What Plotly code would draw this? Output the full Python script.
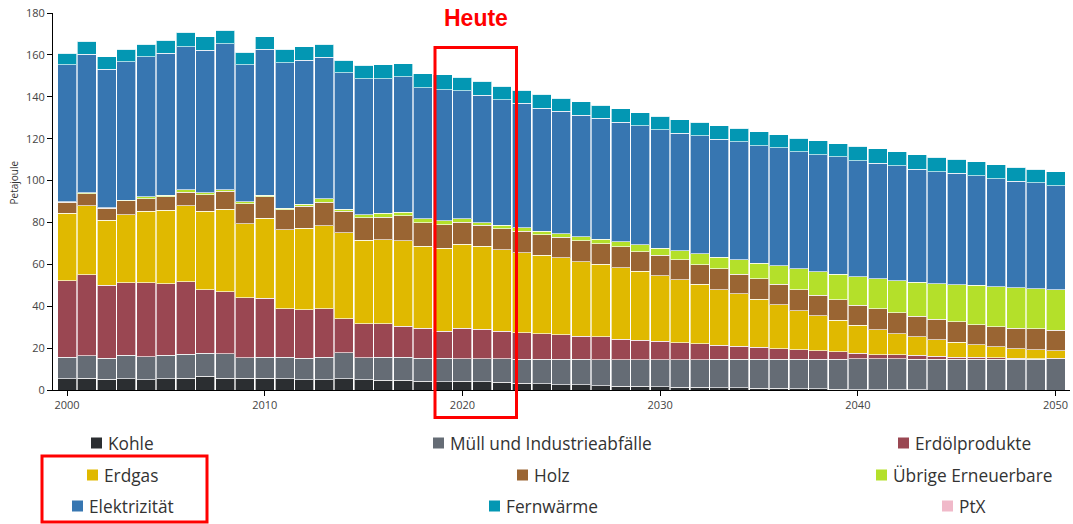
import plotly.graph_objects as go

years = list(range(2000, 2051))

# Petajoule per Energieträger, 2000-2050 (10 Werte pro Zeile)
kohle = [5.3, 5.6, 5.2, 5.3, 4.9, 5.3, 5.6, 6.6, 5.6, 5.6,
         5.6, 5.3, 4.9, 4.9, 5.3, 5.0, 4.7, 4.6, 4.1, 3.9,
         4.1, 3.9, 3.7, 3.2, 3.1, 2.6, 2.5, 2.1, 1.8, 1.7,
         1.6, 1.3, 1.2, 1.1, 1.0, 0.9, 0.8, 0.7, 0.6, 0.4,
         0.2, 0.1, 0.1, 0.1, 0.0, 0.0, 0.0, 0.0, 0.0, 0.0,
         0.0]
muell = [10.3, 10.7, 10.0, 11.3, 10.9, 11.3, 11.5, 11.0, 11.7, 9.8,
         10.0, 10.3, 10.3, 10.7, 12.6, 10.4, 11.0, 11.1, 11.1, 11.3,
         10.8, 11.0, 11.2, 11.5, 11.5, 12.0, 12.1, 12.3, 12.6, 12.7,
         12.8, 13.1, 13.2, 13.5, 13.6, 13.7, 13.8, 13.9, 14.0, 14.2,
         14.8, 14.9, 14.9, 14.7, 14.8, 14.8, 14.8, 14.8, 14.8, 14.8,
         14.9]
erdoel = [36.6, 38.8, 34.8, 34.7, 35.5, 34.2, 34.7, 30.3, 29.7, 28.7,
          28.1, 23.3, 23.2, 23.3, 16.2, 16.3, 16.0, 14.7, 14.3, 12.9,
          14.6, 14.1, 13.2, 12.6, 12.2, 11.7, 11.1, 11.0, 9.8, 9.4,
          8.9, 8.1, 7.8, 6.8, 6.3, 5.8, 5.1, 4.7, 4.1, 3.6,
          2.6, 1.8, 1.8, 1.7, 1.3, 0.8, 0.8, 0.7, 0.3, 0.2,
          0.3]
erdgas = [32.2, 32.9, 31.0, 32.3, 34.0, 35.0, 36.1, 37.4, 39.4, 35.3,
          38.3, 37.5, 38.8, 39.6, 40.9, 39.8, 40.1, 40.9, 39.1, 39.7,
          40.2, 39.6, 38.8, 38.2, 37.5, 36.8, 35.6, 34.6, 34.2, 32.9,
          31.3, 30.2, 28.3, 26.5, 25.0, 22.9, 20.9, 18.6, 16.8, 15.1,
          13.2, 11.9, 10.0, 8.9, 8.0, 7.1, 6.0, 5.1, 4.7, 4.3,
          3.5]
holz = [5.2, 5.7, 5.7, 6.7, 5.9, 6.4, 6.5, 8.0, 8.4, 9.6,
        10.2, 9.6, 10.5, 11.1, 10.3, 10.7, 10.8, 12.0, 11.2, 11.2,
        10.5, 10.0, 10.2, 10.3, 9.9, 9.8, 10.0, 9.9, 9.9, 9.4,
        9.7, 9.4, 9.4, 9.9, 9.4, 9.8, 9.9, 9.9, 9.7, 9.9,
        9.7, 10.2, 10.0, 9.7, 9.7, 9.8, 9.5, 9.7, 9.8, 9.9,
        9.9]
uebrige = [0.2, 0.4, 0.4, 0.4, 1.0, 0.7, 1.2, 0.8, 0.9, 0.8,
           0.9, 0.7, 1.1, 1.6, 1.1, 1.4, 1.9, 1.5, 1.9, 1.7,
           1.5, 1.3, 1.5, 1.6, 1.6, 1.8, 1.8, 2.0, 2.5, 3.3,
           3.4, 4.3, 5.2, 5.7, 6.8, 7.4, 8.9, 10.2, 11.3, 12.1,
           13.5, 14.3, 15.4, 16.3, 16.9, 17.8, 18.8, 19.1, 19.3, 19.1,
           19.3]
elektrizitaet = [65.5, 66.3, 66.1, 66.0, 66.9, 68.0, 68.3, 68.2, 69.6, 65.5,
                 69.7, 69.5, 68.7, 67.6, 65.1, 64.9, 64.1, 64.8, 62.5, 62.7,
                 61.2, 60.8, 60.0, 59.4, 58.8, 58.3, 58.2, 57.8, 57.0, 56.8,
                 56.6, 56.3, 56.3, 56.3, 56.5, 56.1, 56.2, 55.8, 55.9, 56.0,
                 55.5, 55.0, 54.8, 54.1, 53.4, 53.1, 52.3, 51.5, 50.8, 50.6,
                 49.6]
fernwaerme = [5.6, 6.0, 5.8, 5.9, 6.1, 6.0, 7.0, 6.4, 6.4, 5.9,
              5.9, 6.4, 6.4, 6.4, 5.9, 6.5, 6.7, 6.1, 6.8, 7.1,
              6.5, 6.6, 6.5, 6.4, 6.5, 6.4, 6.3, 6.2, 6.4, 6.2,
              6.3, 6.4, 6.4, 6.4, 6.3, 6.6, 6.3, 6.3, 6.5, 6.3,
              6.8, 6.9, 6.8, 6.9, 7.0, 6.7, 6.8, 6.7, 6.7, 6.6,
              6.6]
ptx = [0.0, 0.0, 0.0, 0.0, 0.0, 0.0, 0.0, 0.0, 0.0, 0.0,
       0.0, 0.0, 0.0, 0.0, 0.0, 0.0, 0.0, 0.0, 0.0, 0.0,
       0.0, 0.0, 0.0, 0.0, 0.0, 0.0, 0.0, 0.0, 0.0, 0.0,
       0.0, 0.0, 0.0, 0.0, 0.0, 0.0, 0.0, 0.0, 0.0, 0.0,
       0.0, 0.0, 0.0, 0.0, 0.0, 0.0, 0.0, 0.0, 0.0, 0.0,
       0.0]

names = ["Kohle", "Müll und Industrieabfälle", "Erdölprodukte", "Erdgas", "Holz",
         "Übrige Erneuerbare", "Elektrizität", "Fernwärme", "PtX"]
series = [kohle, muell, erdoel, erdgas, holz, uebrige, elektrizitaet, fernwaerme, ptx]
colors = ["#2b2e31", "#656c75", "#9a4752", "#e0b900", "#9a6533",
          "#b4e02a", "#3776b1", "#0397b3", "#f0b9c9"]

FW, FH = 1073, 524
# plot area in pixels
L, T, W, H = 53, 13, 1017, 377


def px(x):
    return (x - L) / W


def py(y):
    return (T + H - y) / H


fig = go.Figure()
for name, vals, col in zip(names, series, colors):
    fig.add_trace(go.Bar(x=years, y=vals, name=name, marker_color=col,
                         marker_line=dict(color="rgba(255,255,255,0.65)", width=1),
                         showlegend=False))

# legend drawn as squares + text (3 columns)
leg_items = [
    ("Kohle", 107, 443), ("Müll und Industrieabfälle", 449, 443), ("Erdölprodukte", 914, 443),
    ("Erdgas", 103, 475), ("Holz", 533, 475), ("Übrige Erneuerbare", 892, 475),
    ("Elektrizität", 88, 506), ("Fernwärme", 505, 506), ("PtX", 958, 506),
]
shapes = []
annotations = []
for (label, tx, ty), col in zip(leg_items, colors):
    shapes.append(dict(type="rect", xref="paper", yref="paper",
                       x0=px(tx - 16), x1=px(tx - 5), y0=py(ty + 5.5), y1=py(ty - 5.5),
                       fillcolor=col, line=dict(width=0)))
    annotations.append(dict(text=label, xref="paper", yref="paper", x=px(tx - 1), y=py(ty),
                            xanchor="left", yanchor="middle", showarrow=False,
                            font=dict(family="Open Sans", size=17.3, color="#333")))

# red highlight boxes
shapes.append(dict(type="rect", xref="paper", yref="paper",
                   x0=px(435), x1=px(516.5), y0=py(417.5), y1=py(47.5),
                   line=dict(color="#ff0000", width=3)))
shapes.append(dict(type="rect", xref="paper", yref="paper",
                   x0=px(42), x1=px(207), y0=py(522), y1=py(456),
                   line=dict(color="#ff0000", width=3)))

annotations.append(dict(text="<b>Heute</b>", xref="paper", yref="paper", x=px(476), y=py(18),
                        xanchor="center", yanchor="middle", showarrow=False,
                        font=dict(family="Liberation Sans", size=23, color="#ff0000")))
annotations.append(dict(text="Petajoule", xref="paper", yref="paper", x=px(13.5), y=py(183),
                        xanchor="center", yanchor="middle", showarrow=False, textangle=-90,
                        font=dict(family="Open Sans", size=10, color="#333")))

fig.update_layout(
    barmode="stack", bargap=0.04,
    width=FW, height=FH,
    margin=dict(l=L, r=FW - L - W, t=T, b=FH - T - H),
    plot_bgcolor="white", paper_bgcolor="white",
    shapes=shapes, annotations=annotations,
    xaxis=dict(range=[1999.29, 2050.73], tickvals=[2000, 2010, 2020, 2030, 2040, 2050],
               ticks="outside", ticklen=5, tickcolor="#000", showline=True, linecolor="#000",
               showgrid=False, zeroline=False, ticklabeloverflow="allow",
               tickfont=dict(family="Open Sans", size=11, color="#444")),
    yaxis=dict(range=[0, 180], dtick=20, ticks="outside", ticklen=5, tickcolor="#000",
               showline=True, linecolor="#000", showgrid=False, zeroline=False,
               ticklabeloverflow="allow",
               tickfont=dict(family="Open Sans", size=11, color="#444")),
)

# page body margin off so the figure fills the window
fig.write_html("out.html", config={"displayModeBar": False},
               post_script="document.body.style.margin = '0';")
